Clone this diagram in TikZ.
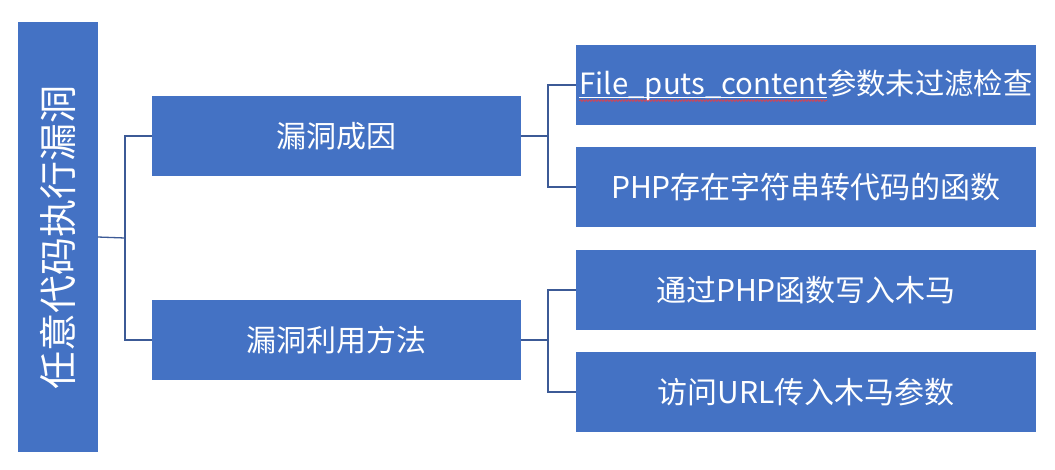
\documentclass[tikz,border=0pt]{standalone}
\usepackage{fontspec}
\setmainfont{Noto Sans CJK SC}
\usetikzlibrary{decorations.pathmorphing}
\definecolor{boxblue}{HTML}{4472C4}
\definecolor{linkblue}{HTML}{3C5A96}
\definecolor{spellred}{HTML}{E0404A}
\newlength\fpcw
\begin{document}
\settowidth\fpcw{\fontsize{29.3}{34}\selectfont File\_puts\_content}%
\begin{tikzpicture}[x=1pt,y=-1pt,
  bluebox/.style={fill=boxblue,draw=none,text=white,inner sep=0pt,align=center},
  conn/.style={draw=linkblue,line width=1.3pt}]
\useasboundingbox (0,0) rectangle (1055,469);
\node[bluebox,minimum width=430,minimum height=80,rotate=90,font=\fontsize{38}{40}\selectfont] (L) at (57.5,237) {任意代码执行漏洞};
\node[bluebox,minimum width=369,minimum height=80,font=\fontsize{30}{34}\selectfont] (M1) at (336.5,136) {漏洞成因};
\node[bluebox,minimum width=369,minimum height=80,font=\fontsize{30}{34}\selectfont] (M2) at (336.5,340) {漏洞利用方法};
\node[bluebox,minimum width=460,minimum height=80] (R1) at (806,85) {};
\node[text=white,inner sep=0pt,font=\fontsize{29.3}{34}\selectfont] (R1t) at (R1.center) {File\_puts\_content参数未过滤检查};
\node[bluebox,minimum width=460,minimum height=80,font=\fontsize{30}{34}\selectfont] (R2) at (806,187) {PHP存在字符串转代码的函数};
\node[bluebox,minimum width=460,minimum height=80,font=\fontsize{30}{34}\selectfont] (R3) at (806,290) {通过PHP函数写入木马};
\node[bluebox,minimum width=460,minimum height=80,font=\fontsize{30}{34}\selectfont] (R4) at (806,392) {访问URL传入木马参数};
\coordinate (u1) at ([yshift=-3pt]R1t.base west);
\coordinate (u2) at ([xshift=\fpcw]u1);
\coordinate (w1) at ([yshift=-6.5pt]R1t.base west);
\coordinate (w2) at ([xshift=\fpcw]w1);
\draw[white,line width=1pt] (u1) -- (u2);
\draw[spellred,line width=0.7pt,decorate,decoration={snake,amplitude=0.9pt,segment length=3pt}] (w1) -- (w2);
\coordinate (j1) at (125,238);
\coordinate (j2) at (548,136);
\coordinate (j3) at (548,340);
\draw[conn] (L.south) -- (j1);
\draw[conn] (j1) |- (M1.west);
\draw[conn] (j1) |- (M2.west);
\draw[conn] (M1.east) -- (j2);
\draw[conn] (j2) |- (R1.west);
\draw[conn] (j2) |- (R2.west);
\draw[conn] (M2.east) -- (j3);
\draw[conn] (j3) |- (R3.west);
\draw[conn] (j3) |- (R4.west);
\end{tikzpicture}
\end{document}
